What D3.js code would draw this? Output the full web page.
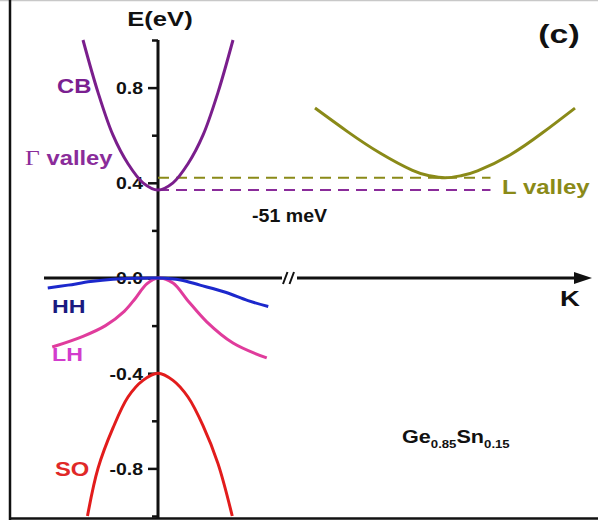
<!DOCTYPE html>
<html>
<head>
<meta charset="utf-8">
<script src="https://cdn.jsdelivr.net/npm/d3@7"></script>
<style>
  html, body { margin: 0; padding: 0; background: #fff; }
  svg { display: block; }
  text { font-family: "Liberation Sans", Arial, Helvetica, sans-serif; font-weight: bold; }
</style>
</head>
<body>
<svg id="chart" width="598" height="523"></svg>
<script>
// Band structure of Ge0.85Sn0.15 near the Γ point and the L valley (energies in eV)

// wave-vector samples around Γ (arbitrary units)
const cbK  = [-1.0, -0.8, -0.6, -0.4, -0.2, 0, 0.2, 0.4, 0.6, 0.8, 1.0];
const cbE  = [1.0, 0.78, 0.60, 0.48, 0.40, 0.37, 0.40, 0.48, 0.60, 0.78, 1.0];

const hhK  = [-1.47, -1.2, -0.9, -0.6, -0.3, 0, 0.3, 0.56, 0.9, 1.2, 1.47];
const hhE  = [-0.042, -0.03, -0.015, -0.005, -0.001, 0, -0.008, -0.03, -0.06, -0.095, -0.12];

const lhK  = [-1.41, -1.0, -0.7, -0.45, -0.3, -0.15, 0, 0.2, 0.39, 0.65, 1.0, 1.45];
const lhE  = [-0.29, -0.245, -0.2, -0.14, -0.085, -0.025, 0, -0.021, -0.092, -0.184, -0.273, -0.336];

const soK  = [-0.94, -0.8, -0.6, -0.4, -0.2, 0, 0.2, 0.4, 0.6, 0.8, 0.99];
const soE  = [-1.0, -0.80, -0.63, -0.50, -0.43, -0.40, -0.43, -0.50, -0.62, -0.78, -1.0];

// wave-vector samples around L (separate k range, past the axis break)
const lK   = [-1.0, -0.75, -0.5, -0.25, -0.125, 0, 0.125, 0.25, 0.5, 0.75, 1.0];
const lE   = [0.714, 0.615, 0.525, 0.452, 0.43, 0.421, 0.43, 0.45, 0.517, 0.61, 0.714];

// valley minima (offset = 51 meV)
const gammaMin = 0.37;
const lMin = 0.421;

const yTicks = [-1.0, -0.8, -0.6, -0.4, -0.2, 0.0, 0.2, 0.4, 0.6, 0.8, 1.0];
const yLabelTicks = [-0.8, -0.4, 0.0, 0.4, 0.8];

const svg = d3.select("#chart");

const y  = d3.scaleLinear().domain([-1, 1]).range([516, 40]);
const xG = d3.scaleLinear().domain([-1, 1]).range([83, 233]);
const xL = d3.scaleLinear().domain([-1, 1]).range([315, 575]);

// frame
svg.append("line").attr("x1", 0).attr("x2", 598).attr("y1", 0.5).attr("y2", 0.5)
  .attr("stroke", "#c8c8c8").attr("stroke-width", 1.5);
svg.append("line").attr("x1", 10).attr("x2", 10).attr("y1", 0).attr("y2", 520)
  .attr("stroke", "#111").attr("stroke-width", 2.5);
svg.append("line").attr("x1", 9).attr("x2", 598).attr("y1", 518.5).attr("y2", 518.5)
  .attr("stroke", "#111").attr("stroke-width", 2.5);

// energy axis
const isMajor = v => yLabelTicks.some(t => Math.abs(t - v) < 1e-9);
const yAxis = d3.axisLeft(y).tickValues(yTicks).tickSizeOuter(0)
  .tickFormat(v => isMajor(v) ? d3.format(".1f")(v).replace("−", "-") : "");
const gy = svg.append("g").attr("transform", `translate(${xG(0)},0)`).call(yAxis);
gy.select(".domain").attr("stroke", "#111").attr("stroke-width", 3)
  .attr("d", `M0,${y(1)}V${y(-1) + 2}`);
gy.selectAll(".tick line").attr("stroke", "#111").attr("stroke-width", 2.5)
  .attr("x2", d => isMajor(d) ? -10 : -6);
gy.selectAll(".tick text")
  .attr("x", 0).attr("dy", "0.36em")
  .attr("transform", "translate(-15,0) scale(1.18,1)")
  .attr("fill", "#111").attr("font-size", 16.5)
  .style("font-family", "'Liberation Sans', Arial, sans-serif").style("font-weight", "bold");

// wave-vector axis with break marks
const y0 = y(0);
svg.append("line").attr("x1", 44).attr("x2", 282).attr("y1", y0).attr("y2", y0)
  .attr("stroke", "#111").attr("stroke-width", 3);
svg.append("line").attr("x1", 297).attr("x2", 578).attr("y1", y0).attr("y2", y0)
  .attr("stroke", "#111").attr("stroke-width", 3);
svg.append("path").attr("d", `M574,${y0 - 6}L592,${y0}L574,${y0 + 6}Z`).attr("fill", "#111");
svg.append("path")
  .attr("d", `M283,${y0 + 6}L287.5,${y0 - 6}M289.5,${y0 + 6}L294,${y0 - 6}`)
  .attr("stroke", "#111").attr("stroke-width", 2).attr("fill", "none");

// dashed valley-minimum guides
svg.append("line").attr("x1", xG(0)).attr("x2", xL(0.35)).attr("y1", y(lMin)).attr("y2", y(lMin))
  .attr("stroke", "#8a8a18").attr("stroke-width", 2).attr("stroke-dasharray", "11,7");
svg.append("line").attr("x1", xG(0)).attr("x2", xL(0.35)).attr("y1", y(gammaMin)).attr("y2", y(gammaMin))
  .attr("stroke", "#8a2c9a").attr("stroke-width", 2).attr("stroke-dasharray", "11,7");

// bands
const bandG = d3.line().x(d => xG(d[0])).y(d => y(d[1])).curve(d3.curveCatmullRom.alpha(0.5));
const bandL = d3.line().x(d => xL(d[0])).y(d => y(d[1])).curve(d3.curveNatural);
const pairs = (k, e) => k.map((v, i) => [v, e[i]]);

svg.append("path").attr("d", bandG(pairs(soK, soE))).attr("fill", "none")
  .attr("stroke", "#e21c1c").attr("stroke-width", 3);
svg.append("path").attr("d", bandG(pairs(lhK, lhE))).attr("fill", "none")
  .attr("stroke", "#e03c9c").attr("stroke-width", 3);
svg.append("path").attr("d", bandG(pairs(hhK, hhE))).attr("fill", "none")
  .attr("stroke", "#1c28cc").attr("stroke-width", 3);
svg.append("path").attr("d", bandG(pairs(cbK, cbE))).attr("fill", "none")
  .attr("stroke", "#7a1e8c").attr("stroke-width", 3);
svg.append("path").attr("d", bandL(pairs(lK, lE))).attr("fill", "none")
  .attr("stroke", "#8a8a18").attr("stroke-width", 3);

// labels
function label(x, yy, txt, size, color, anchor, sx) {
  return svg.append("text")
    .attr("transform", `translate(${x},${yy}) scale(${sx || 1.22},1)`)
    .attr("text-anchor", anchor || "start")
    .attr("font-size", size).attr("fill", color).text(txt);
}
label(160, 26, "E(eV)", 21, "#111", "middle");
label(559, 43, "(c)", 26, "#111", "middle", 1.3);
label(57, 93, "CB", 19.5, "#7a2090");
const gv = svg.append("text").attr("transform", "translate(25,165) scale(1.22,1)")
  .attr("font-size", 19.5).attr("fill", "#8a2c9a");
gv.append("tspan").style("font-family", "'Liberation Serif', 'Times New Roman', serif")
  .style("font-weight", "normal").attr("font-size", 21).text("Γ");
gv.append("tspan").text(" valley");
label(502, 194, "L valley", 20, "#8a8a18", "start", 1.2);
label(252, 222, "-51 meV", 17.5, "#111", "start", 1.12);
label(570, 306, "K", 22, "#111", "middle", 1.25);
label(52, 313, "HH", 19, "#1a1a80");
label(52, 361, "LH", 19, "#d23ccd");
label(55, 476, "SO", 19.5, "#e02828");

const ge = svg.append("text").attr("transform", "translate(402,443) scale(1.2,1)")
  .attr("font-size", 18).attr("fill", "#111");
ge.append("tspan").text("Ge");
ge.append("tspan").attr("font-size", 11).attr("dy", 5).text("0.85");
ge.append("tspan").attr("dy", -5).text("Sn");
ge.append("tspan").attr("font-size", 11).attr("dy", 5).text("0.15");
</script>
</body>
</html>
